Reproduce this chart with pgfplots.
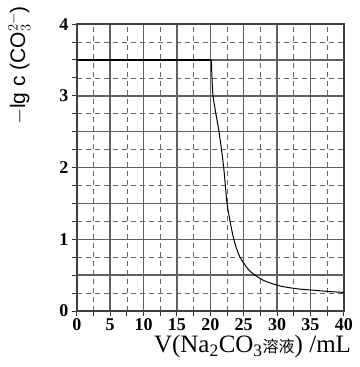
\documentclass[border=0pt]{standalone}
\usepackage{pgfplots}
\pgfplotsset{compat=1.18}
\usepackage{fontspec}
\setmainfont{Liberation Serif}
\newfontfamily\sans{Liberation Sans}
\newfontfamily\cjk{Noto Sans CJK SC}
\begin{document}
\begin{tikzpicture}
\begin{axis}[
  scale only axis, width=267pt, height=287pt,
  clip=false,
  xmin=0, xmax=40, ymin=0, ymax=4,
  xtick={0,5,...,40}, ytick={0,1,2,3,4},
  minor xtick={2.5,7.5,...,37.5},
  minor ytick={0.25,0.75,...,3.75},
  extra y ticks={0.5,1.5,2.5,3.5}, extra y tick labels={},
  extra y tick style={grid=major},
  grid=both,
  major grid style={black!62, line width=1.5pt},
  minor grid style={black!60, line width=0.8pt, dash pattern=on 5pt off 4pt},
  tick align=outside, tick pos=left,
  major tick length=5pt, minor tick length=5pt,
  tick style={black!80, line width=1pt},
  axis line style={black!75, line width=1.5pt},
  ticklabel style={font=\fontsize{18}{21}\selectfont\bfseries},
  /pgf/number format/assume math mode=true,
  xticklabel style={yshift=1pt},
  xlabel={V(Na\textsubscript{2}CO\textsubscript{3}{\cjk\fontsize{16}{19}\selectfont 溶液}) /mL},
  xlabel style={at={(axis description cs:1.04,-0.072)}, anchor=north east, font=\fontsize{25}{29}\selectfont},
  ylabel={$-$lg c (CO$_3^{2-}$)},
  ylabel style={at={(axis description cs:-0.27,1.075)}, anchor=north east, font=\sans\fontsize{21}{25}\selectfont},
]
\path (rel axis cs:-0.288,-0.195) (rel axis cs:1.06,1.084);
\addplot[black, line width=1.8pt] table {
x y
0 3.5
10 3.5
20.15 3.5
};
\addplot[black, line width=1pt, smooth, tension=0.4] table {
x y
20.15 3.5
20.4 3.0
21.3 2.5
22.0 2.0
22.5 1.5
23.1 1.18
23.6 0.97
24.2 0.8
24.9 0.68
26 0.55
27.9 0.43
30.4 0.35
33 0.31
35.5 0.29
38 0.27
40 0.26
};
\end{axis}
\end{tikzpicture}
\end{document}
